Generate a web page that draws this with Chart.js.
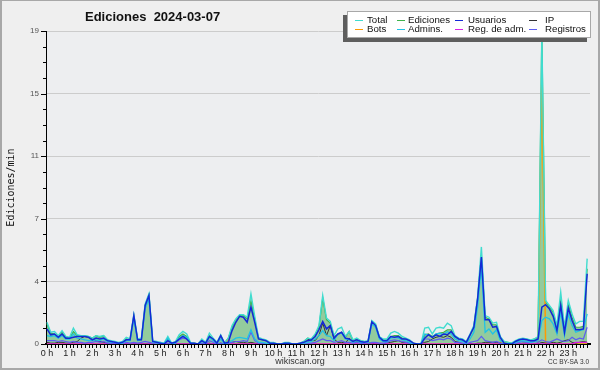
<!DOCTYPE html>
<html>
<head>
<meta charset="utf-8">
<script src="https://cdn.jsdelivr.net/npm/chart.js@4.4.1/dist/chart.umd.min.js"></script>
<style>
  html, body { margin: 0; padding: 0; background: #efefef; }
</style>
</head>
<body>
<canvas id="chart" width="600" height="370"></canvas>
<script>
// Ediciones por minuto, muestras de 10 min (144 por día)
const hourLabels = ['0 h','1 h','2 h','3 h','4 h','5 h','6 h','7 h','8 h','9 h','10 h','11 h',
  '12 h','13 h','14 h','15 h','16 h','17 h','18 h','19 h','20 h','21 h','22 h','23 h'];
const yTickLabels = ['0', '4', '7', '11', '15', '19'];
const yMax = 18.7;

const total = [
  1.3, 0.7, 0.75, 0.5, 0.8, 0.45,   0.4, 0.95, 0.55, 0.5, 0.5, 0.45,
  0.35, 0.5, 0.45, 0.5, 0.25, 0.2,  0.15, 0.1, 0.15, 0.4, 0.3, 1.75,
  0.3, 0.35, 2.4, 3.0, 0.2, 0.15,   0.1, 0.05, 0.45, 0.05, 0.15, 0.55,
  0.75, 0.6, 0.1, 0.05, 0, 0.3,     0.1, 0.65, 0.35, 0.1, 0.55, 0.05,
  0.35, 1.1, 1.5, 1.75, 1.75, 1.6,  3.0, 1.65, 0.4, 0.3, 0.25, 0.1,
  0.1, 0, 0, 0.1, 0.1, 0,           0, 0.05, 0.15, 0.35, 0.3, 0.6,
  1.1, 2.9, 1.55, 1.35, 0.5, 0.9,   1.0, 0.45, 0.75, 0.25, 0.35, 0.2,
  0.15, 0.2, 1.4, 1.2, 0.45, 0.3,   0.3, 0.65, 0.75, 0.65, 0.45, 0.35,
  0.25, 0.05, 0, 0, 0.95, 1.0,      0.6, 0.95, 1.0, 0.95, 1.25, 1.1,
  0.5, 0.35, 0.3, 0.15, 0.6, 1.1,   2.8, 5.8, 1.7, 1.6, 1.25, 1.3,
  0.45, 0.15, 0.1, 0.05, 0.2, 0.3,  0.35, 0.3, 0.25, 0.3, 0.45, 18.7,
  2.6, 2.3, 2.0, 1.1, 3.1, 1.0,     2.6, 1.8, 1.2, 1.35, 1.35, 5.1
];
const edits = [
  1.2, 0.65, 0.6, 0.45, 0.7, 0.4,   0.35, 0.75, 0.5, 0.5, 0.5, 0.45,
  0.35, 0.5, 0.4, 0.5, 0.25, 0.15,  0.1, 0.05, 0.1, 0.3, 0.25, 1.7,
  0.25, 0.3, 2.3, 2.95, 0.15, 0.1,  0.05, 0, 0.3, 0.05, 0.1, 0.45,
  0.6, 0.45, 0.05, 0.05, 0, 0.25,   0.05, 0.5, 0.3, 0.05, 0.5, 0.05,
  0.35, 1.0, 1.45, 1.7, 1.7, 1.5,   2.6, 1.5, 0.35, 0.25, 0.2, 0.05,
  0.05, 0, 0, 0.05, 0, 0,           0, 0.05, 0.15, 0.35, 0.3, 0.55,
  1.0, 2.75, 1.45, 1.25, 0.45, 0.55, 0.7, 0.4, 0.75, 0.2, 0.3, 0.2,
  0.15, 0.15, 1.35, 1.15, 0.4, 0.25, 0.25, 0.45, 0.5, 0.5, 0.35, 0.3,
  0.2, 0.05, 0, 0, 0.55, 0.6,       0.45, 0.6, 0.65, 0.7, 0.85, 0.85,
  0.45, 0.3, 0.25, 0.1, 0.55, 1.05, 2.75, 5.3, 1.6, 1.5, 1.15, 1.15,
  0.4, 0.15, 0.1, 0.05, 0.15, 0.25, 0.3, 0.3, 0.2, 0.3, 0.4, 18.7,
  2.5, 2.2, 1.9, 0.9, 2.6, 0.85,    2.4, 1.6, 1.0, 1.0, 1.05, 4.5
];
const users = [
  0.9, 0.55, 0.6, 0.4, 0.6, 0.35,   0.35, 0.4, 0.45, 0.45, 0.45, 0.4,
  0.25, 0.35, 0.3, 0.35, 0.2, 0.15, 0.1, 0.05, 0.1, 0.25, 0.25, 1.7,
  0.25, 0.25, 2.3, 2.9, 0.15, 0.1,  0.05, 0, 0.2, 0.05, 0.1, 0.3,
  0.45, 0.3, 0.05, 0.05, 0, 0.2,    0.05, 0.45, 0.3, 0.05, 0.5, 0.05,
  0.1, 0.8, 1.3, 1.65, 1.6, 1.3,    2.2, 1.3, 0.3, 0.25, 0.2, 0.05,
  0.05, 0, 0, 0.05, 0.05, 0,        0, 0.05, 0.1, 0.2, 0.25, 0.45,
  0.85, 1.35, 0.9, 1.1, 0.35, 0.6,  0.7, 0.35, 0.3, 0.15, 0.25, 0.15,
  0.1, 0.15, 1.33, 1.1, 0.4, 0.2,   0.2, 0.45, 0.4, 0.45, 0.3, 0.3,
  0.2, 0.05, 0, 0, 0.35, 0.55,      0.4, 0.55, 0.45, 0.6, 0.55, 0.75,
  0.45, 0.3, 0.25, 0.1, 0.55, 1.0,  2.7, 5.2, 1.45, 1.45, 1.0, 1.05,
  0.4, 0.05, 0, 0, 0.15, 0.25,      0.3, 0.25, 0.2, 0.2, 0.3, 2.2,
  2.35, 2.1, 1.65, 0.8, 2.3, 0.7,   2.15, 1.4, 0.85, 0.85, 0.9, 4.2
];
const admins = [
  0.5, 0.45, 0.5, 0.35, 0.5, 0.3,   0.3, 0.6, 0.35, 0.3, 0.25, 0.2,
  0.2, 0.25, 0.2, 0.3, 0.15, 0.1,   0.1, 0.05, 0.05, 0.2, 0.2, 1.5,
  0.2, 0.25, 2.1, 2.7, 0.1, 0.05,   0.05, 0, 0.35, 0, 0.05, 0.35,
  0.5, 0.4, 0.05, 0, 0, 0.15,       0.05, 0.4, 0.2, 0.05, 0.3, 0,
  0.1, 0.2, 0.35, 0.4, 0.35, 0.3,   0.85, 0.3, 0.1, 0.1, 0.05, 0,
  0, 0, 0, 0.05, 0, 0,              0, 0, 0.05, 0.1, 0.15, 0.3,
  0.5, 0.8, 0.5, 0.45, 0.2, 0.6,    0.65, 0.3, 0.25, 0.1, 0.2, 0.1,
  0.1, 0.1, 1.2, 1.0, 0.3, 0.15,    0.15, 0.35, 0.4, 0.35, 0.25, 0.2,
  0.1, 0, 0, 0, 0.6, 0.55,          0.4, 0.6, 0.65, 0.55, 0.75, 0.6,
  0.3, 0.2, 0.15, 0.05, 0.3, 0.7,   2.2, 4.6, 0.7, 0.9, 0.6, 0.85,
  0.2, 0.05, 0, 0, 0.1, 0.15,       0.2, 0.15, 0.1, 0.15, 0.2, 1.4,
  1.6, 1.5, 1.2, 0.6, 1.9, 0.5,     1.8, 1.1, 0.7, 0.8, 0.85, 1.8
];
const signups = [
  0.2, 0.2, 0.2, 0.15, 0.2, 0.15,   0.1, 0.15, 0.1, 0.1, 0.05, 0.1,
  0.1, 0.15, 0.1, 0.15, 0.05, 0.05, 0.05, 0, 0.05, 0.1, 0.05, 0.1,
  0.05, 0.1, 0.15, 0.1, 0.05, 0.1,  0.1, 0.05, 0.05, 0, 0.05, 0.25,
  0.35, 0.3, 0.05, 0, 0, 0.05,      0, 0.2, 0.1, 0, 0.05, 0,
  0.05, 0.1, 0.15, 0.15, 0.2, 0.15, 0.7, 0.2, 0.05, 0.05, 0, 0,
  0, 0, 0, 0, 0, 0,                 0, 0, 0, 0.05, 0.05, 0.1,
  0.2, 0.3, 0.2, 0.2, 0.1, 0.15,    0.2, 0.1, 0.1, 0.05, 0.1, 0.05,
  0, 0, 0.1, 0.1, 0.05, 0.05,       0.1, 0.2, 0.25, 0.2, 0.15, 0.1,
  0.05, 0, 0, 0, 0.3, 0.3,          0.2, 0.25, 0.3, 0.25, 0.35, 0.3,
  0.1, 0.1, 0.05, 0, 0.1, 0.15,     0.2, 0.45, 0.2, 0.15, 0.1, 0.15,
  0.05, 0, 0, 0, 0.05, 0.1,         0.15, 0.1, 0.1, 0.15, 0.1, 0.25,
  0.15, 0.1, 0.2, 0.3, 0.2, 0.15,   0.2, 0.4, 0.25, 0.35, 0.3, 1.0
];
const ipEdits = [
  0.1, 0.05, 0.05, 0.1, 0.1, 0.05,  0.05, 0.1, 0.15, 0.35, 0.45, 0.4,
  0.3, 0.2, 0.15, 0.1, 0.05, 0.05,  0, 0, 0, 0, 0, 0,
  0, 0, 0, 0, 0, 0,                 0, 0, 0, 0, 0, 0,
  0, 0, 0, 0, 0, 0,                 0, 0.05, 0, 0, 0.05, 0,
  0.05, 0.1, 0.15, 0.1, 0.1, 0.05,  0.1, 0.05, 0, 0, 0, 0,
  0, 0, 0, 0, 0, 0,                 0, 0, 0.1, 0.3, 0.2, 0.2,
  0.5, 1.25, 0.5, 1.1, 0.3, 0.1,    0.1, 0.05, 0.35, 0.1, 0.15, 0.1,
  0.1, 0.05, 0.05, 0, 0, 0,         0.05, 0.1, 0.15, 0.2, 0.1, 0.1,
  0.05, 0, 0, 0, 0.1, 0.15,         0.3, 0.4, 0.45, 0.4, 0.5, 0.4,
  0.15, 0.1, 0, 0, 0.05, 0,         0.05, 0.05, 0.1, 0.1, 0.1, 0.1,
  0.05, 0, 0, 0, 0, 0,              0.05, 0.05, 0, 0, 0, 0.1,
  0.05, 0.05, 0.1, 0.05, 0.1, 0.2,  0.25, 0.1, 0.05, 0.1, 0.15, 0.1
];
const bots = [
  0, 0, 0, 0, 0, 0,   0, 0, 0, 0, 0, 0,   0, 0, 0, 0, 0, 0,   0, 0, 0, 0, 0, 0,
  0, 0, 0, 0, 0, 0,   0, 0, 0, 0, 0, 0,   0, 0, 0, 0, 0, 0,   0, 0, 0, 0, 0, 0,
  0.3, 0, 0, 0, 0, 0, 0, 0, 0, 0, 0, 0,   0, 0, 0, 0, 0, 0,   0, 0, 0, 0, 0, 0,
  0, 0, 0, 0, 0, 0,   0, 0, 0, 0, 0, 0,   0, 0, 0, 0, 0, 0,   0, 0, 0, 0, 0, 0,
  0, 0, 0, 0, 0, 0,   0, 0, 0, 0, 0, 0,   0, 0, 0, 0, 0, 0,   0, 0, 0, 0, 0, 0,
  0.1, 0.1, 0, 0, 0, 0, 0, 0, 0, 0, 0, 16.0, 0, 0, 0, 0, 0, 0, 0, 0, 0, 0, 0, 0
];
const adminSignups = [
  0, 0, 0, 0, 0, 0,   0, 0, 0, 0, 0, 0,   0, 0, 0, 0, 0, 0,   0, 0, 0, 0, 0, 0,
  0, 0, 0, 0, 0, 0,   0, 0, 0, 0, 0, 0,   0, 0, 0, 0, 0, 0,   0, 0, 0, 0, 0, 0,
  0, 0, 0, 0, 0, 0,   0, 0, 0, 0, 0, 0,   0, 0, 0, 0, 0, 0,   0, 0, 0, 0, 0, 0,
  0, 0, 0, 0, 0, 0,   0, 0, 0, 0, 0, 0,   0, 0, 0, 0, 0, 0,   0, 0, 0, 0, 0, 0,
  0, 0, 0, 0, 0, 0,   0, 0, 0, 0, 0, 0,   0, 0, 0, 0, 0, 0,   0, 0, 0, 0, 0, 0,
  0, 0, 0, 0, 0, 0,   0, 0, 0, 0, 0, 0,   0, 0, 0, 0, 0, 0,   0, 0, 0.1, 0.1, 0.1, 0.1
];

// posición de cada muestra (índice de 10 min)
const slots = total.map((_, i) => i);
const pts = vals => vals.map((v, i) => ({ x: slots[i], y: v }));

const legendRows = [
  ['Total', 'Ediciones', 'Usuarios', 'IP'],
  ['Bots', 'Admins.', 'Reg. de adm.', 'Registros']
];

// fondo, marcas de ejes, títulos y leyenda propia
const decor = {
  id: 'decor',
  beforeDraw(chart) {
    const { ctx, chartArea: a } = chart;
    ctx.save();
    ctx.fillStyle = '#efefef';
    ctx.fillRect(0, 0, chart.width, chart.height);
    ctx.fillStyle = '#edeef0';
    ctx.fillRect(a.left, a.top, a.right - a.left, a.bottom - a.top);
    ctx.restore();
  },
  afterDraw(chart) {
    const { ctx, chartArea: a } = chart;
    const xs = chart.scales.x, ys = chart.scales.y;
    ctx.save();
    ctx.strokeStyle = '#000';
    ctx.lineWidth = 1;
    ctx.beginPath();
    ys.ticks.forEach((t, i) => {
      const y = Math.round(ys.getPixelForValue(t.value)) + 0.5;
      ctx.moveTo(a.left - (i % 4 === 0 ? 5 : 3), y);
      ctx.lineTo(a.left, y);
    });
    xs.ticks.forEach(t => {
      const x = Math.round(xs.getPixelForValue(t.value)) + 0.5;
      ctx.moveTo(x, a.bottom);
      ctx.lineTo(x, a.bottom + 4);
    });
    ctx.stroke();

    // título
    ctx.fillStyle = '#111';
    ctx.font = 'bold 13px "Liberation Sans", Arial, sans-serif';
    ctx.textAlign = 'left';
    ctx.textBaseline = 'alphabetic';
    ctx.fillText('Ediciones  2024-03-07', 85, 21);

    // título eje y
    ctx.save();
    ctx.translate(14, (a.top + a.bottom) / 2);
    ctx.rotate(-Math.PI / 2);
    ctx.textAlign = 'center';
    ctx.font = '10px "DejaVu Sans Mono", monospace';
    ctx.fillStyle = '#111';
    ctx.fillText('Ediciones/min', 0, 0);
    ctx.restore();

    // pie
    ctx.fillStyle = '#333';
    ctx.font = '9px "Liberation Sans", Arial, sans-serif';
    ctx.textAlign = 'center';
    ctx.fillText('wikiscan.org', 300, 364);
    ctx.font = '6.5px "Liberation Sans", Arial, sans-serif';
    ctx.textAlign = 'right';
    ctx.fillText('CC BY-SA 3.0', 589, 364);

    // leyenda
    const bx = 347, by = 11, bw = 244, bh = 27;
    ctx.fillStyle = '#5e5e5e';
    ctx.fillRect(bx - 4, by + 4, bw, bh);
    ctx.fillStyle = '#fff';
    ctx.fillRect(bx, by, bw, bh);
    ctx.strokeStyle = '#a8a8a8';
    ctx.strokeRect(bx + 0.5, by + 0.5, bw - 1, bh - 1);
    const sampleX = [355, 397, 455, 529];
    const textX = [367, 408, 468, 545];
    const rowY = [20, 29];
    ctx.font = '9.7px "Liberation Sans", Arial, sans-serif';
    ctx.textAlign = 'left';
    ctx.textBaseline = 'middle';
    legendRows.forEach((row, r) => {
      row.forEach((name, c) => {
        const ds = chart.data.datasets.find(d => d.label === name);
        ctx.strokeStyle = ds.borderColor;
        ctx.lineWidth = 1;
        ctx.beginPath();
        ctx.moveTo(sampleX[c], rowY[r] + 0.5);
        ctx.lineTo(sampleX[c] + 8, rowY[r] + 0.5);
        ctx.stroke();
        ctx.fillStyle = '#111';
        ctx.fillText(name, textX[c], rowY[r] + 0.5);
      });
    });

    // marco
    ctx.fillStyle = '#a8a8a8';
    ctx.fillRect(0, 0, 2, chart.height);
    ctx.fillRect(0, 0, chart.width, 1);
    ctx.fillRect(chart.width - 2, 0, 2, chart.height);
    ctx.fillRect(0, chart.height - 2, chart.width, 2);
    ctx.restore();
  }
};

Chart.defaults.font.family = '"Liberation Sans", Arial, sans-serif';

new Chart(document.getElementById('chart'), {
  type: 'line',
  data: {
    datasets: [
      { label: 'Usuarios', data: pts(users), borderColor: '#1428d6', borderWidth: 1.5, order: 1 },
      { label: 'Admins.', data: pts(admins), borderColor: '#20c2e6', borderWidth: 1.3, order: 2 },
      { label: 'Total', data: pts(total), borderColor: '#40dccf', borderWidth: 1.4, order: 3 },
      { label: 'Registros', data: pts(signups), borderColor: '#5c5cf2', borderWidth: 1.2, order: 4 },
      { label: 'Reg. de adm.', data: pts(adminSignups), borderColor: '#d820e4', borderWidth: 1.4, order: 5 },
      { label: 'IP', data: pts(ipEdits), borderColor: '#333333', borderWidth: 1, order: 6 },
      { label: 'Bots', data: pts(bots), borderColor: '#ff9a00', borderWidth: 1.5, order: 7 },
      { label: 'Ediciones', data: pts(edits), borderColor: '#3fb24c', backgroundColor: '#93cb9d',
        fill: 'origin', borderWidth: 1.2, order: 8 }
    ]
  },
  options: {
    responsive: false,
    animation: false,
    devicePixelRatio: 1,
    layout: { padding: { top: 31, right: 10, left: 0, bottom: 0 } },
    elements: { point: { radius: 0 }, line: { tension: 0, fill: false } },
    plugins: { legend: { display: false }, tooltip: { enabled: false } },
    scales: {
      x: {
        type: 'linear',
        min: -0.25,
        max: 143.75,
        bounds: 'data',
        afterBuildTicks: s => { s.ticks = slots.map(v => ({ value: v })); },
        afterFit: s => { s.height = 26; },
        grid: { display: false, drawTicks: false },
        border: { display: true, color: '#000', width: 2 },
        ticks: {
          autoSkip: false,
          maxRotation: 0,
          padding: 4,
          color: '#222',
          font: { size: 9 },
          callback: v => (v % 6 === 0 ? hourLabels[v / 6] : '')
        }
      },
      y: {
        min: 0,
        max: yMax,
        bounds: 'data',
        afterBuildTicks: s => {
          s.ticks = Array.from({ length: 21 }, (_, k) => ({ value: yMax * k / 20 }));
        },
        afterFit: s => { s.width = 46; },
        grid: {
          drawTicks: false,
          color: c => (c.index % 4 === 0 ? '#cccccc' : 'rgba(0,0,0,0)')
        },
        border: { display: true, color: '#000', width: 1 },
        ticks: {
          autoSkip: false,
          padding: 7,
          color: '#555',
          font: { size: 8 },
          callback: (v, i) => (i % 4 === 0 ? yTickLabels[i / 4] : '')
        }
      }
    }
  },
  plugins: [decor]
});
</script>
</body>
</html>
